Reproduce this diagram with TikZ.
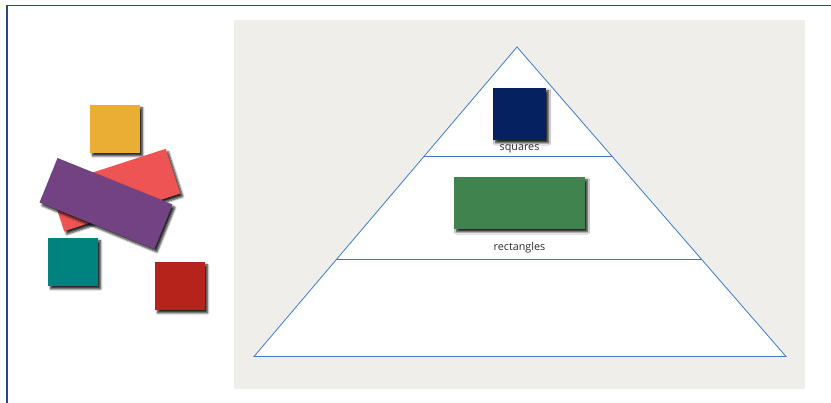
\documentclass[tikz,border=0pt]{standalone}
\usepackage{fontspec}
\setmainfont{Open Sans}
\usetikzlibrary{positioning}
\usetikzlibrary{calc}
\usetikzlibrary{shadows.blur}
\definecolor{frameblue}{HTML}{2C4488}
\definecolor{panelgrey}{HTML}{EFEEEB}
\definecolor{lineblue}{HTML}{3A7CC8}
\definecolor{labelgrey}{HTML}{2B2B2B}
\definecolor{sqorange}{HTML}{EBAE35}
\definecolor{rcoral}{HTML}{EF5454}
\definecolor{rpurple}{HTML}{724282}
\definecolor{sqteal}{HTML}{00837E}
\definecolor{sqcrimson}{HTML}{B5231B}
\definecolor{sqnavy}{HTML}{06215F}
\definecolor{rgreen}{HTML}{41834F}
\tikzset{tile/.style={inner sep=0pt, blur shadow={shadow xshift=2.5pt, shadow yshift=-3pt, shadow blur steps=6, shadow opacity=85}}}
\tikzset{sq/.style={tile, minimum width=50pt, minimum height=48pt}}
\tikzset{lvl/.style={draw=lineblue, line width=0.8pt}}
\tikzset{lbl/.style={inner sep=0pt, font=\fontsize{10.8}{12}\selectfont, text=labelgrey}}

\begin{document}
\begin{tikzpicture}[x=1pt,y=1pt]
        \clip (0,0) rectangle (831,403);
        \draw[frameblue, line width=1.5pt] (7,-5) -- (7,397.5) -- (840,397.5);
        \fill[panelgrey] (234,14) rectangle (805,383);

        % pyramid
        \coordinate (top) at (517,356);
        \coordinate (bl) at (254,46.5);
        \coordinate (br) at (786,46.5);
        \draw[lvl, fill=white] (top) -- (bl) -- (br) -- cycle;
        \draw[lvl] ($(top)!0.354!(bl)$) -- ($(top)!0.354!(br)$);
        \draw[lvl] ($(top)!0.686!(bl)$) -- ($(top)!0.686!(br)$);

        \node[tile, fill=sqnavy, minimum width=53pt, minimum height=52pt] (navy) at (519.5,289) {};
        \node[lbl, below=4pt of navy] (sqlabel) {squares};
        \node[tile, fill=rgreen, minimum width=131pt, minimum height=52pt] (green) at (519.5,200) {};
        \node[lbl, below=13pt of green] (rectlabel) {rectangles};

        % loose shapes
        \node[sq, fill=sqorange] (orange) at (115,274) {};
        \node[tile, fill=rcoral, minimum width=122pt, minimum height=47pt, rotate=18] (coral) at (115,213) {};
        \node[tile, fill=rpurple, minimum width=124pt, minimum height=48pt, rotate=-22] (purple) at (106,199.5) {};
        \node[sq, fill=sqteal] (teal) at (73,141) {};
        \node[sq, fill=sqcrimson] (crimson) at (180,117) {};

    \end{tikzpicture}
\end{document}
